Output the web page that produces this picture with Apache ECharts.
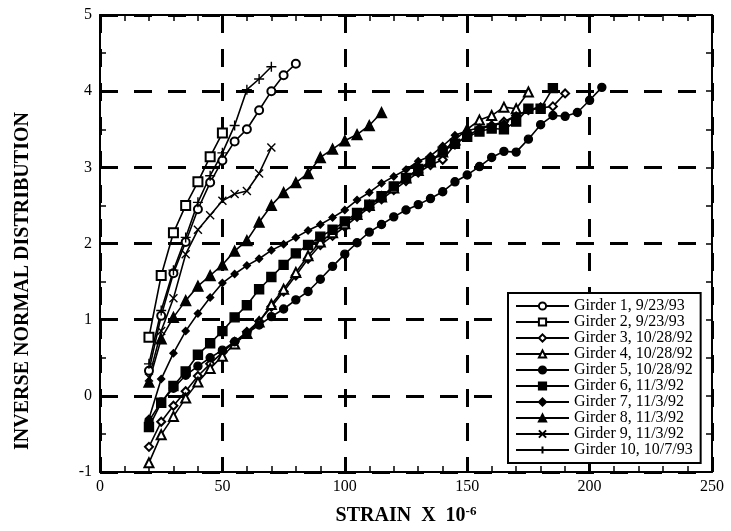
<!DOCTYPE html>
<html>
<head>
<meta charset="utf-8">
<script src="https://cdn.jsdelivr.net/npm/echarts@6/dist/echarts.min.js"></script>
<style>
html,body{margin:0;padding:0;background:#fff;}
#chart{width:731px;height:531px;}
</style>
</head>
<body>
<div id="chart"></div>
<script>
// Strain values (x 10^-6) at which readings were taken
const strain = [20,25,30,35,40,45,50,55,60,65,70,75,80,85,90,95,100,105,110,115,120,125,130,135,140,145,150,155,160,165,170,175,180,185,190,195,200,205];

// Inverse normal distribution values, one array per girder (starting at strain 20)
const girder1 = [0.33,1.05,1.61,2.02,2.45,2.80,3.09,3.34,3.50,3.75,4.00,4.21,4.36];
const girder2 = [0.77,1.58,2.14,2.50,2.81,3.14,3.45];
const girder3 = [-0.67,-0.34,-0.13,0.06,0.26,0.42,0.57,0.71,0.84,0.98,1.17,1.37,1.58,1.80,1.98,2.10,2.22,2.35,2.47,2.58,2.70,2.82,2.93,3.03,3.10,3.30,3.42,3.50,3.55,3.60,3.68,3.75,3.78,3.80,3.97];
const girder4 = [-0.88,-0.51,-0.27,-0.03,0.18,0.36,0.52,0.68,0.82,0.97,1.20,1.40,1.62,1.84,2.02,2.14,2.26,2.38,2.50,2.61,2.73,2.86,2.96,3.07,3.20,3.36,3.50,3.62,3.68,3.79,3.77,3.99];
const girder5 = [-0.33,-0.08,0.10,0.27,0.39,0.50,0.60,0.71,0.82,0.93,1.04,1.14,1.26,1.37,1.53,1.70,1.86,2.01,2.15,2.25,2.35,2.44,2.51,2.59,2.68,2.81,2.90,3.01,3.13,3.21,3.20,3.37,3.56,3.68,3.67,3.72,3.88,4.05];
const girder6 = [-0.41,-0.09,0.13,0.32,0.54,0.69,0.85,1.03,1.19,1.40,1.56,1.72,1.87,1.98,2.09,2.18,2.29,2.40,2.51,2.62,2.75,2.86,2.98,3.08,3.21,3.31,3.40,3.47,3.51,3.50,3.60,3.77,3.77,4.04];
const girder7 = [-0.30,0.22,0.56,0.85,1.08,1.29,1.48,1.60,1.71,1.80,1.91,1.99,2.08,2.17,2.25,2.34,2.44,2.57,2.67,2.79,2.88,2.97,3.08,3.15,3.28,3.42,3.48,3.52,3.55,3.58,3.68,3.75,3.80];
const girder8 = [0.18,0.75,1.03,1.25,1.44,1.58,1.72,1.90,2.04,2.28,2.50,2.67,2.80,2.92,3.13,3.24,3.35,3.43,3.55,3.72];
const girder9 = [0.24,0.85,1.28,1.86,2.18,2.37,2.56,2.65,2.69,2.92,3.26];
const girder10 = [0.42,1.12,1.65,2.08,2.54,2.89,3.19,3.55,4.02,4.16,4.32];

const seriesNames = ['Girder 1, 9/23/93','Girder 2, 9/23/93','Girder 3, 10/28/92','Girder 4, 10/28/92','Girder 5, 10/28/92','Girder 6, 11/3/92','Girder 7, 11/3/92','Girder 8, 11/3/92','Girder 9, 11/3/92','Girder 10, 10/7/93'];
const seriesValues = [girder1,girder2,girder3,girder4,girder5,girder6,girder7,girder8,girder9,girder10];

const xTicks = [0,50,100,150,200,250];
const yTicks = [-1,0,1,2,3,4,5];
const xTitle = 'STRAIN  X  10';
const xTitleSup = '-6';
const yTitle = 'INVERSE NORMAL DISTRIBUTION';

const CROSS = 'path://M0,0L10,10M10,0L0,10';
const PLUS = 'path://M5,0L5,10M0,5L10,5';
const symbols = [
  {symbol:'emptyCircle', size:8},
  {symbol:'emptyRect', size:9},
  {symbol:'emptyDiamond', size:8},
  {symbol:'emptyTriangle', size:9},
  {symbol:'circle', size:8},
  {symbol:'rect', size:9},
  {symbol:'diamond', size:7},
  {symbol:'triangle', size:10},
  {symbol:CROSS, size:8},
  {symbol:PLUS, size:10}
];

const FONT = 'Liberation Serif';

const series = seriesValues.map((vals, i) => ({
  name: seriesNames[i],
  type: 'line',
  data: vals.map((v, j) => [strain[j], v]),
  symbol: symbols[i].symbol,
  symbolSize: symbols[i].size,
  showAllSymbol: true,
  lineStyle: {color:'#000', width:1.6},
  itemStyle: {color:'#000', borderColor:'#000', borderWidth: 1.4},
  emphasis: {disabled:true},
  animation: false,
  z: 3
}));

const tickCommon = {show:true, inside:true, length:6, lineStyle:{color:'#000', width:1.5}};

const chart = echarts.init(document.getElementById('chart'), null, {renderer:'canvas'});
chart.setOption({
  backgroundColor:'#fff',
  animation:false,
  grid:{left:100, right:19, top:15, bottom:57, containLabel:false},
  xAxis:[{
    type:'value', min:xTicks[0], max:xTicks[xTicks.length-1], interval:50,
    axisLine:{show:true, onZero:false, lineStyle:{color:'#000', width:2}},
    axisTick:tickCommon,
    minorTick:{show:true, splitNumber:5, length:6, lineStyle:{color:'#000', width:1.5}},
    splitLine:{show:true, lineStyle:{color:'#000', width:3, type:[18,16]}},
    axisLabel:{color:'#000', fontFamily:FONT, fontSize:16, margin:7},
    name:'{a|' + xTitle + '}{b|' + xTitleSup + '}',
    nameLocation:'middle', nameGap:33,
    nameTextStyle:{rich:{
      a:{fontFamily:FONT, fontWeight:'bold', fontSize:20, color:'#000', lineHeight:22},
      b:{fontFamily:FONT, fontWeight:'bold', fontSize:13, color:'#000', verticalAlign:'top', lineHeight:13}
    }}
  },{
    type:'value', position:'top', min:xTicks[0], max:xTicks[xTicks.length-1], interval:50,
    axisLine:{show:true, onZero:false, lineStyle:{color:'#000', width:2}},
    axisTick:tickCommon,
    minorTick:{show:true, splitNumber:5, length:6, lineStyle:{color:'#000', width:1.5}},
    splitLine:{show:false}, axisLabel:{show:false}
  }],
  yAxis:[{
    type:'value', min:yTicks[0], max:yTicks[yTicks.length-1], interval:1,
    axisLine:{show:true, onZero:false, lineStyle:{color:'#000', width:2}},
    axisTick:tickCommon,
    minorTick:{show:true, splitNumber:2, length:6, lineStyle:{color:'#000', width:1.5}},
    splitLine:{show:true, lineStyle:{color:'#000', width:3, type:[18,16]}},
    axisLabel:{color:'#000', fontFamily:FONT, fontSize:16, margin:8}
  },{
    type:'value', position:'right', min:yTicks[0], max:yTicks[yTicks.length-1], interval:1,
    axisLine:{show:true, onZero:false, lineStyle:{color:'#000', width:2}},
    axisTick:tickCommon,
    minorTick:{show:true, splitNumber:2, length:6, lineStyle:{color:'#000', width:1.5}},
    splitLine:{show:false}, axisLabel:{show:false}
  }],
  graphic:[{
    type:'text', x:23, y:281, rotation:Math.PI/2, silent:true,
    style:{text:yTitle, fill:'#000', font:'bold 20px "Liberation Serif"', align:'center', verticalAlign:'middle'}
  }],
  legend:{
    orient:'vertical', left:508, top:293,
    data:seriesNames,
    itemWidth:53, itemHeight:9, itemGap:0, itemTextGap:9,
    padding:[5,8,5,7],
    backgroundColor:'#fff', borderColor:'#000', borderWidth:2,
    textStyle:{fontFamily:FONT, fontSize:16, color:'#000', lineHeight:15.7},
    lineStyle:{width:2},
    selectedMode:false
  },
  series: series
});
</script>
</body>
</html>
